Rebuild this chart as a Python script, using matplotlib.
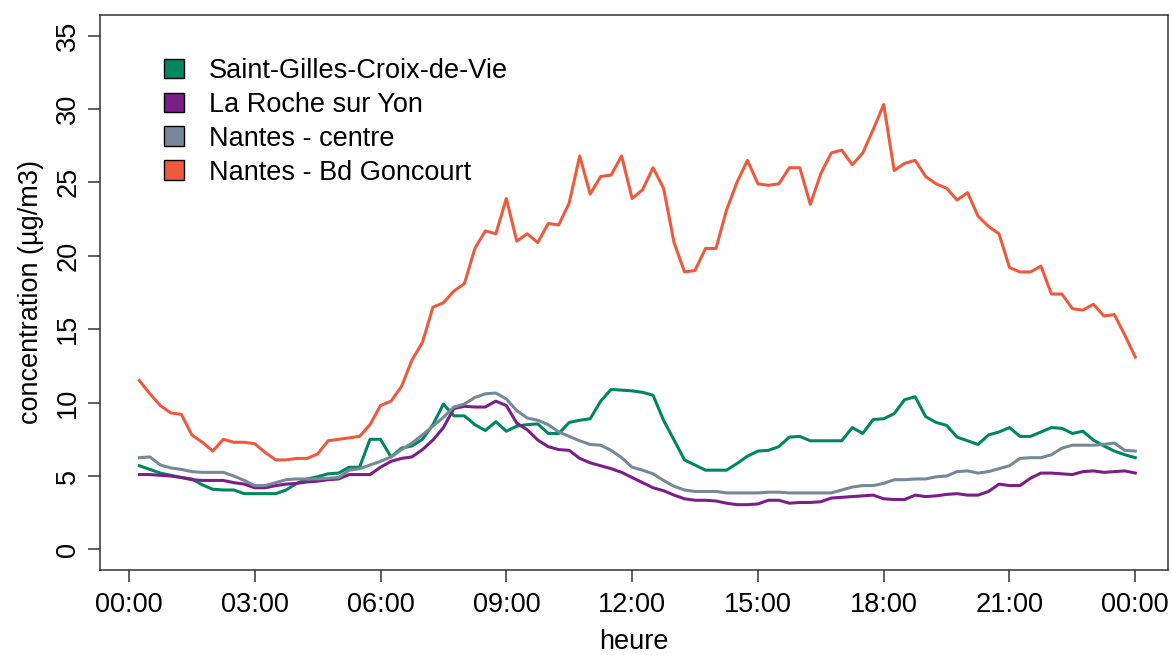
import numpy as np
import matplotlib
matplotlib.use("Agg")
import matplotlib.pyplot as plt
from matplotlib.patches import Patch

plt.rcParams['font.family'] = ['Liberation Sans', 'DejaVu Sans']

## Data: 15-min averages, 00:15 -> 24:00
hours = np.arange(1, 97) * 0.25

saint_gilles = [5.7, 5.45, 5.2, 5.05, 4.9, 4.8, 4.4, 4.1, 4.05, 4.05, 3.8, 3.8,
                3.8, 3.8, 4.05, 4.5, 4.8, 4.95, 5.15, 5.2, 5.6, 5.6, 7.5, 7.5,
                6.3, 6.9, 7.05, 7.5, 8.5, 9.9, 9.1, 9.1, 8.5, 8.1, 8.7, 8.05,
                8.4, 8.5, 8.55, 7.9, 7.9, 8.65, 8.8, 8.9, 10.1, 10.9, 10.85, 10.8,
                10.7, 10.5, 8.8, 7.45, 6.1, 5.75, 5.4, 5.4, 5.4, 5.85, 6.35, 6.7,
                6.75, 7.0, 7.65, 7.7, 7.4, 7.4, 7.4, 7.4, 8.3, 7.9, 8.85, 8.9,
                9.25, 10.2, 10.4, 9.05, 8.65, 8.45, 7.65, 7.4, 7.15, 7.8, 8.0, 8.3,
                7.7, 7.7, 8.0, 8.3, 8.25, 7.9, 8.05, 7.45, 7.05, 6.7, 6.45, 6.25]

la_roche = [5.1, 5.1, 5.05, 5.0, 4.9, 4.75, 4.7, 4.7, 4.7, 4.55, 4.45, 4.2,
            4.2, 4.35, 4.45, 4.5, 4.6, 4.65, 4.75, 4.8, 5.1, 5.1, 5.1, 5.6,
            6.0, 6.2, 6.3, 6.8, 7.45, 8.3, 9.6, 9.75, 9.7, 9.7, 10.1, 9.8,
            8.6, 8.15, 7.45, 7.0, 6.8, 6.75, 6.2, 5.9, 5.7, 5.5, 5.25, 4.9,
            4.55, 4.2, 4.0, 3.7, 3.45, 3.35, 3.35, 3.3, 3.15, 3.05, 3.05, 3.1,
            3.35, 3.35, 3.15, 3.2, 3.2, 3.25, 3.5, 3.55, 3.6, 3.65, 3.7, 3.45,
            3.4, 3.4, 3.7, 3.6, 3.65, 3.75, 3.8, 3.7, 3.7, 3.95, 4.45, 4.35,
            4.35, 4.85, 5.2, 5.2, 5.15, 5.1, 5.3, 5.35, 5.25, 5.3, 5.35, 5.2]

nantes_centre = [6.25, 6.3, 5.75, 5.55, 5.45, 5.3, 5.25, 5.25, 5.25, 5.0, 4.7, 4.35,
                 4.35, 4.55, 4.75, 4.8, 4.8, 4.8, 4.85, 4.9, 5.4, 5.5, 5.75, 6.0,
                 6.3, 6.8, 7.25, 7.8, 8.4, 9.0, 9.7, 9.9, 10.35, 10.6, 10.65, 10.25,
                 9.45, 8.95, 8.8, 8.5, 8.0, 7.7, 7.4, 7.15, 7.1, 6.75, 6.25, 5.6,
                 5.4, 5.15, 4.7, 4.3, 4.05, 3.95, 3.95, 3.95, 3.85, 3.85, 3.85, 3.85,
                 3.9, 3.9, 3.85, 3.85, 3.85, 3.85, 3.85, 4.05, 4.25, 4.35, 4.35, 4.5,
                 4.75, 4.75, 4.8, 4.8, 4.95, 5.0, 5.3, 5.35, 5.2, 5.3, 5.5, 5.7,
                 6.2, 6.25, 6.25, 6.45, 6.9, 7.1, 7.1, 7.1, 7.15, 7.25, 6.75, 6.7]

goncourt = [11.5, 10.6, 9.8, 9.3, 9.2, 7.8, 7.3, 6.7, 7.5, 7.3, 7.3, 7.2,
            6.6, 6.1, 6.1, 6.2, 6.2, 6.5, 7.4, 7.5, 7.6, 7.7, 8.5, 9.8,
            10.1, 11.1, 12.9, 14.1, 16.5, 16.8, 17.6, 18.1, 20.5, 21.7, 21.5, 23.9,
            21.0, 21.5, 20.9, 22.2, 22.1, 23.6, 26.8, 24.2, 25.4, 25.5, 26.8, 23.9,
            24.5, 26.0, 24.6, 20.9, 18.9, 19.0, 20.5, 20.5, 23.1, 25.0, 26.5, 24.9,
            24.8, 24.9, 26.0, 26.0, 23.5, 25.6, 27.0, 27.2, 26.2, 27.0, 28.6, 30.3,
            25.8, 26.3, 26.5, 25.4, 24.9, 24.6, 23.8, 24.3, 22.7, 22.0, 21.5, 19.2,
            18.9, 18.9, 19.3, 17.4, 17.4, 16.4, 16.3, 16.7, 15.9, 16.0, 14.6, 13.1]

stations = ["Saint-Gilles-Croix-de-Vie", "La Roche sur Yon", "Nantes - centre", "Nantes - Bd Goncourt"]
series = [saint_gilles, la_roche, nantes_centre, goncourt]
colors = ["#00875F", "#7B1F88", "#778899", "#EE5A3E"]

tick_hours = [0, 3, 6, 9, 12, 15, 18, 21, 24]
tick_labels = ["00:00", "03:00", "06:00", "09:00", "12:00", "15:00", "18:00", "21:00", "00:00"]

## Plot
fs = 19.5
fig = plt.figure(figsize=(11.72, 6.55), dpi=100)
ax = fig.add_axes([100/1172, 1 - 570/655, 1068/1172, 555/655])

for vals, col in zip(series, colors):
    ax.plot(hours, vals, color=col, lw=2.2)

ax.set_xlim(-0.69, 24.78)
ax.set_ylim(-1.4, 36.4)
ax.set_xticks(tick_hours)
ax.set_xticklabels(tick_labels)
ax.set_yticks(range(0, 36, 5))

ax.tick_params(axis='both', labelsize=fs, length=8.5, width=1.1, color='#333333')
ax.tick_params(axis='y', labelrotation=90, pad=5)
ax.tick_params(axis='x', pad=7)
for lab in ax.get_yticklabels():
    lab.set_va('center')
for s in ax.spines.values():
    s.set_color('#333333')
    s.set_linewidth(1.1)

ax.set_xlabel("heure", fontsize=fs, labelpad=8)
ax.set_ylabel("concentration (µg/m3)", fontsize=fs, labelpad=8)

handles = [Patch(facecolor=c, edgecolor='black', lw=1) for c in colors]
ax.legend(handles, stations, loc='upper left', bbox_to_anchor=(0.05, 0.942),
          frameon=False, fontsize=fs, handlelength=0.74, handleheight=0.74,
          handletextpad=0.92, labelspacing=0.29, borderaxespad=0)

fig.savefig("out.png", dpi=100)
